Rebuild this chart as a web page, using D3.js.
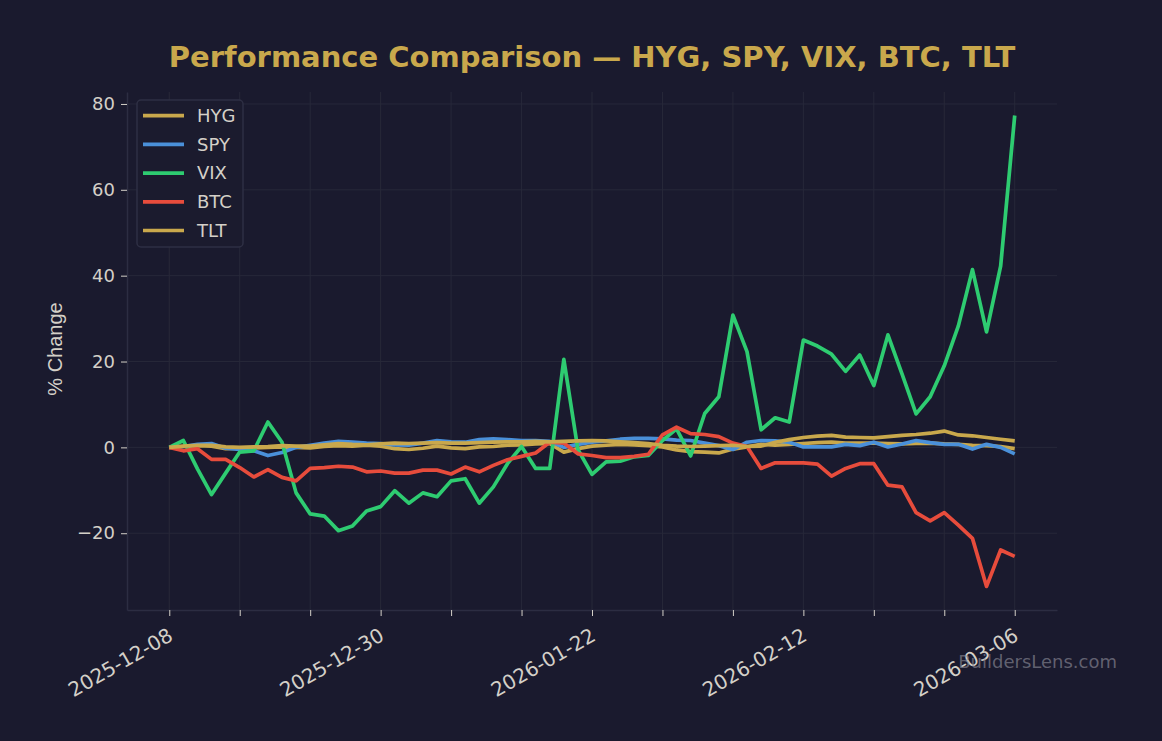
<!DOCTYPE html>
<html>
<head>
<meta charset="utf-8">
<script src="https://cdn.jsdelivr.net/npm/d3@7"></script>
<style>
  body { margin: 0; background: #1a1a2e; }
  svg { display: block; font-family: "DejaVu Sans", sans-serif; }
  .tick text { fill: #d4d0c8; font-size: 18px; font-family: "DejaVu Sans", sans-serif; }
  .x-axis .tick text { font-size: 20px; }
  .tick line { stroke: #d4d0c8; }
</style>
</head>
<body>
<svg width="1162" height="741"></svg>
<script>
// trading-day index 0..60, labels every 15 days
const tickIdx = [0, 5, 10, 15, 20, 25, 30, 35, 40, 45, 50, 55, 60];
const labelIdx = [0, 15, 30, 45, 60];
const labelDates = ["2025-12-08", "2025-12-30", "2026-01-22", "2026-02-12", "2026-03-06"];
const yTicks = [-20, 0, 20, 40, 60, 80];

const names = ["HYG", "SPY", "VIX", "BTC", "TLT"];
const colors = ["#c9a84c", "#4a90d9", "#2ecc71", "#e74c3c", "#c9a84c"];

const hyg = [0, 0.2, 0.4, 0.3, -0.3, -0.2, -0.1, 0.0, 0.1, 0.0, -0.1, 0.2, 0.4, 0.3, 0.5, 0.3, -0.3, -0.5, -0.2, 0.3, -0.1,
  -0.3, 0.1, 0.2, 0.5, 0.6, 0.8, 0.9, -1.1, -0.3, 0.3, 0.5, 0.7, 0.6, 0.4, 0.1, -0.6, -1.0, -1.1, -1.3, -0.4,
  0.1, 0.7, 0.5, 0.7, 0.9, 1.1, 1.2, 1.0, 1.0, 1.0, 0.9, 0.8, 0.9, 1.0, 0.8, 0.7, 0.5, 0.4, 0.2, -0.3];
const spy = [0, 0.2, 0.7, 0.9, -0.2, -0.5, -0.8, -1.9, -1.2, 0.0, 0.5, 1.0, 1.4, 1.2, 1.0, 0.9, 0.6, 0.5, 1.0, 1.6, 1.3,
  1.2, 1.8, 2.0, 1.8, 1.6, 1.6, 1.4, 0.0, 0.7, 1.2, 1.5, 1.9, 2.1, 2.1, 2.0, 1.7, 1.6, 1.0, 0.4, -0.5,
  1.2, 1.6, 1.5, 1.2, 0.1, 0.1, 0.1, 0.7, 0.4, 1.2, 0.1, 0.8, 1.6, 1.1, 0.7, 0.7, -0.4, 0.7, 0.0, -1.5];
const vix = [0, 1.6, -5.0, -11.0, -6.0, -1.1, -0.8, 5.9, 1.2, -10.6, -15.5, -16.0, -19.4, -18.3, -14.8, -13.8, -10.1, -13.0, -10.6, -11.5, -7.8,
  -7.3, -13.0, -9.2, -3.8, 0.2, -4.9, -4.9, 20.5, -0.5, -6.3, -3.4, -3.2, -2.2, -1.9, 1.6, 4.3, -2.0, 7.9, 11.8, 30.8,
  22.3, 4.1, 6.9, 5.9, 25.0, 23.6, 21.7, 17.7, 21.5, 14.4, 26.2, 17.1, 7.8, 11.8, 19.0, 28.3, 41.4, 26.9, 42.2, 77.3];
const btc = [0, -0.8, -0.3, -2.8, -2.8, -4.7, -6.9, -5.2, -7.0, -7.8, -4.9, -4.7, -4.4, -4.6, -5.7, -5.5, -6.0, -6.0, -5.3, -5.3, -6.2,
  -4.6, -5.7, -4.2, -2.9, -2.1, -1.3, 1.2, 1.0, -1.5, -1.9, -2.4, -2.4, -2.1, -1.6, 2.9, 4.7, 3.2, 3.0, 2.5, 1.0,
  0.2, -4.9, -3.6, -3.6, -3.6, -3.9, -6.7, -4.9, -3.8, -3.8, -8.8, -9.2, -15.2, -17.1, -15.2, -18.1, -21.2, -32.4, -23.9, -25.4];
const tlt = [0, 0.3, 0.5, 0.5, 0.1, 0.0, 0.1, 0.2, 0.4, 0.3, 0.3, 0.6, 0.9, 0.7, 0.6, 0.8, 1.0, 0.9, 1.0, 1.1, 1.0,
  1.0, 1.1, 1.2, 1.3, 1.3, 1.4, 1.3, 1.4, 1.5, 1.6, 1.5, 1.3, 1.1, 0.9, 0.5, 0.3, 0.2, 0.3, 0.4, 0.5,
  0.2, 0.3, 1.2, 1.8, 2.3, 2.6, 2.8, 2.4, 2.3, 2.2, 2.5, 2.8, 3.0, 3.3, 3.8, 2.9, 2.7, 2.3, 1.9, 1.5];

const seriesValues = [hyg, spy, vix, btc, tlt];

const svg = d3.select("svg");
const width = +svg.attr("width");
const height = +svg.attr("height");

const margin = { top: 92, right: 105, bottom: 131, left: 127 };
const innerWidth = width - margin.left - margin.right;
const innerHeight = height - margin.top - margin.bottom;

svg.append("rect").attr("width", width).attr("height", height).attr("fill", "#1a1a2e");

const n = vix.length;
const allVals = seriesValues.flat();
const yMin = d3.min(allVals), yMax = d3.max(allVals);
const yPad = (yMax - yMin) * 0.05;

const xScale = d3.scaleLinear().domain([-(n - 1) * 0.05, (n - 1) * 1.05]).range([0, innerWidth]);
const yScale = d3.scaleLinear().domain([yMin - yPad, yMax + yPad]).range([innerHeight, 0]);

const g = svg.append("g").attr("transform", `translate(${margin.left},${margin.top})`);

// grid
g.append("g").selectAll("line").data(yTicks).enter().append("line")
  .attr("x1", 0).attr("x2", innerWidth)
  .attr("y1", (d) => yScale(d)).attr("y2", (d) => yScale(d))
  .attr("stroke", "#272839").attr("stroke-width", 1);
g.append("g").selectAll("line").data(tickIdx).enter().append("line")
  .attr("y1", 0).attr("y2", innerHeight)
  .attr("x1", (d) => xScale(d)).attr("x2", (d) => xScale(d))
  .attr("stroke", "#272839").attr("stroke-width", 1);

const fmt = (d) => (d < 0 ? "\u2212" + Math.abs(d) : "" + d);
const yAxis = d3.axisLeft(yScale).tickValues(yTicks).tickFormat(fmt)
  .tickSize(6).tickSizeOuter(0).tickPadding(6);
const yAxisG = g.append("g").call(yAxis);
yAxisG.select(".domain").attr("stroke", "#2c2d42").attr("stroke-width", 1.5);

const labelMap = new Map(labelIdx.map((d, i) => [d, labelDates[i]]));
const xAxis = d3.axisBottom(xScale).tickValues(tickIdx)
  .tickFormat((d) => labelMap.get(d) || "").tickSize(6).tickSizeOuter(0).tickPadding(6);
const xAxisG = g.append("g").attr("class", "x-axis")
  .attr("transform", `translate(0,${innerHeight})`).call(xAxis);
xAxisG.select(".domain").attr("stroke", "#2c2d42").attr("stroke-width", 1.5);
xAxisG.selectAll(".tick text")
  .attr("text-anchor", "end")
  .attr("dy", "0.35em")
  .attr("transform", "translate(-5,13) rotate(-30)");

yAxisG.append("text")
  .attr("transform", "rotate(-90)")
  .attr("x", -innerHeight / 2 + 2)
  .attr("y", -65)
  .attr("fill", "#d4d0c8")
  .attr("text-anchor", "middle")
  .style("font-size", "20px")
  .text("% Change");

// lines
const line = d3.line().x((d, i) => xScale(i)).y((d) => yScale(d));
g.selectAll(".series").data(seriesValues).enter().append("path")
  .attr("class", "series")
  .attr("d", line)
  .attr("fill", "none")
  .attr("stroke", (d, i) => colors[i])
  .attr("stroke-width", 3.7)
  .attr("stroke-linejoin", "round");

// legend
const legend = g.append("g").attr("transform", "translate(10,8)");
legend.append("rect")
  .attr("width", 106).attr("height", 147).attr("rx", 4)
  .attr("fill", "#1b1b2e").attr("stroke", "#2e2f44").attr("stroke-width", 1.5);
const item = legend.selectAll(".item").data(names).enter().append("g")
  .attr("transform", (d, i) => `translate(0,${15.7 + i * 28.7})`);
item.append("line").attr("x1", 6).attr("x2", 47)
  .attr("stroke", (d, i) => colors[i]).attr("stroke-width", 3.7);
item.append("text").attr("x", 60).attr("dy", "0.35em")
  .attr("fill", "#d4d0c8").style("font-size", "18px").text((d) => d);

svg.append("text")
  .attr("x", margin.left + innerWidth / 2)
  .attr("y", 67)
  .attr("text-anchor", "middle")
  .attr("fill", "#c9a84c")
  .style("font-size", "29px")
  .style("font-weight", "bold")
  .text("Performance Comparison \u2014 HYG, SPY, VIX, BTC, TLT");

svg.append("text")
  .attr("x", 1117)
  .attr("y", 668)
  .attr("text-anchor", "end")
  .attr("fill", "#8a8a96")
  .attr("fill-opacity", 0.65)
  .style("font-size", "18px")
  .text("BuildersLens.com");
</script>
</body>
</html>
